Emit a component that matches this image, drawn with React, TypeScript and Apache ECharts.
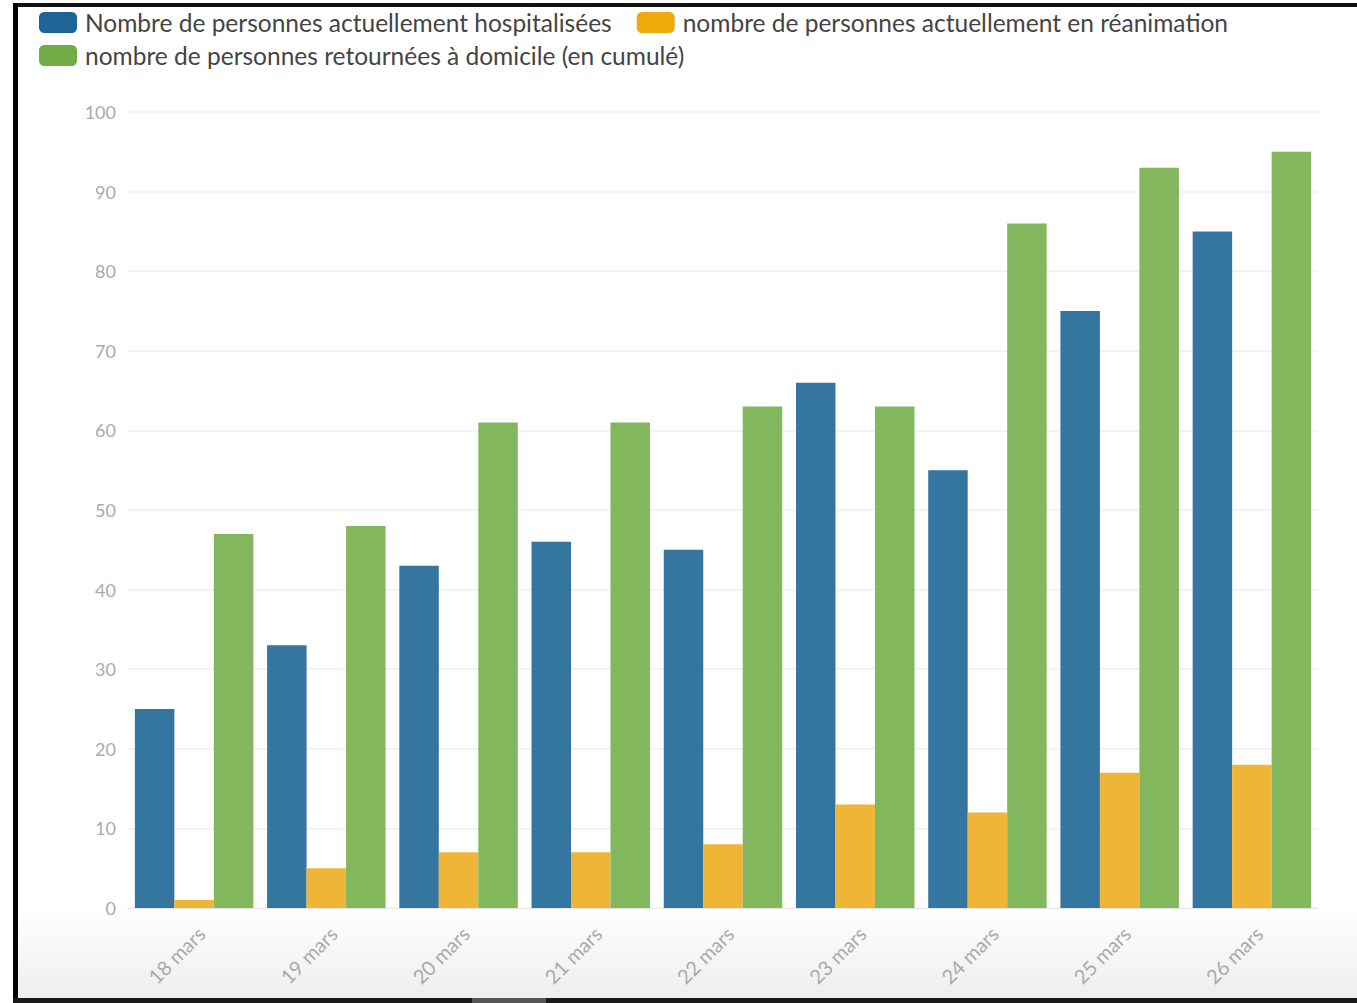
import React, { useEffect, useRef } from "react";
import * as echarts from "echarts";

const categories = ["18 mars", "19 mars", "20 mars", "21 mars", "22 mars", "23 mars", "24 mars", "25 mars", "26 mars"];
const hospitalises = [25, 33, 43, 46, 45, 66, 55, 75, 85];
const reanimation = [1, 5, 7, 7, 8, 13, 12, 17, 18];
const domicile = [47, 48, 61, 61, 63, 63, 86, 93, 95];
const seriesNames = [
  "Nombre de personnes actuellement hospitalisées",
  "nombre de personnes actuellement en réanimation",
  "nombre de personnes retournées à domicile (en cumulé)",
];
const yTicks = { min: 0, max: 100, interval: 10 };

const FONT = "Lato, 'Open Sans', sans-serif";
const barColors = ["#34769f", "#efb536", "#82b75d"];
const legendColors = ["#1f6496", "#f0aa0c", "#70ad47"];

export default function App() {
  const ref = useRef<HTMLDivElement>(null);
  useEffect(() => {
    document.body.style.margin = "0";
    const chart = echarts.init(ref.current!, null, { renderer: "svg" });
    const legendBase = {
      left: 34,
      itemWidth: 38,
      itemHeight: 21,
      itemGap: 25,
      icon: "roundRect",
      textStyle: { fontSize: 24.5, color: "#444", fontFamily: FONT, padding: [0, 0, 0, 3] },
    };
    chart.setOption({
      animation: false,
      backgroundColor: "#ffffff",
      textStyle: { fontFamily: FONT },
      graphic: [
        {
          type: "rect",
          silent: true,
          z: -10,
          shape: { x: 18, y: 905, width: 1339, height: 93 },
          style: {
            fill: new echarts.graphic.LinearGradient(0, 0, 0, 1, [
              { offset: 0, color: "#ffffff" },
              { offset: 1, color: "#eeeeee" },
            ]),
          },
        },
        { type: "rect", silent: true, shape: { x: 13, y: 3, width: 1344, height: 4 }, style: { fill: "#111" } },
        { type: "rect", silent: true, shape: { x: 13, y: 3, width: 5, height: 1000 }, style: { fill: "#000" } },
        { type: "rect", silent: true, shape: { x: 13, y: 998, width: 1344, height: 5 }, style: { fill: "#1a1a1a" } },
        { type: "rect", silent: true, shape: { x: 472, y: 998, width: 74, height: 5 }, style: { fill: "#555" } },
      ],
      legend: [
        { ...legendBase, top: 5, data: [
          { name: seriesNames[0], itemStyle: { color: legendColors[0] } },
          { name: seriesNames[1], itemStyle: { color: legendColors[1] } },
        ] },
        { ...legendBase, top: 38, data: [
          { name: seriesNames[2], itemStyle: { color: legendColors[2] } },
        ] },
      ],
      grid: { left: 128, right: 39, top: 112, bottom: 95 },
      xAxis: {
        type: "category",
        data: categories,
        axisLine: { lineStyle: { color: "#e6e6e6" } },
        axisTick: { alignWithLabel: true, length: 6, lineStyle: { color: "#e3e3e3" } },
        axisLabel: { rotate: 45, fontSize: 20, color: "#aaaaaa", margin: 15, verticalAlign: "top", fontFamily: FONT },
      },
      yAxis: {
        type: "value",
        min: yTicks.min,
        max: yTicks.max,
        interval: yTicks.interval,
        axisLine: { show: false },
        axisTick: { show: false },
        axisLabel: { fontSize: 18, color: "#aaaaaa", margin: 12, fontFamily: FONT },
        splitLine: { lineStyle: { color: "#efefef", width: 1.5 } },
      },
      series: [
        { name: seriesNames[0], type: "bar", data: hospitalises, barGap: "0%", barCategoryGap: "10.4%", itemStyle: { color: barColors[0] } },
        { name: seriesNames[1], type: "bar", data: reanimation, barGap: "0%", barCategoryGap: "10.4%", itemStyle: { color: barColors[1] } },
        { name: seriesNames[2], type: "bar", data: domicile, barGap: "0%", barCategoryGap: "10.4%", itemStyle: { color: barColors[2] } },
      ],
    });
    return () => chart.dispose();
  }, []);
  return <div ref={ref} style={{ position: "absolute", left: 0, top: 0, width: 1357, height: 1003 }} />;
}
